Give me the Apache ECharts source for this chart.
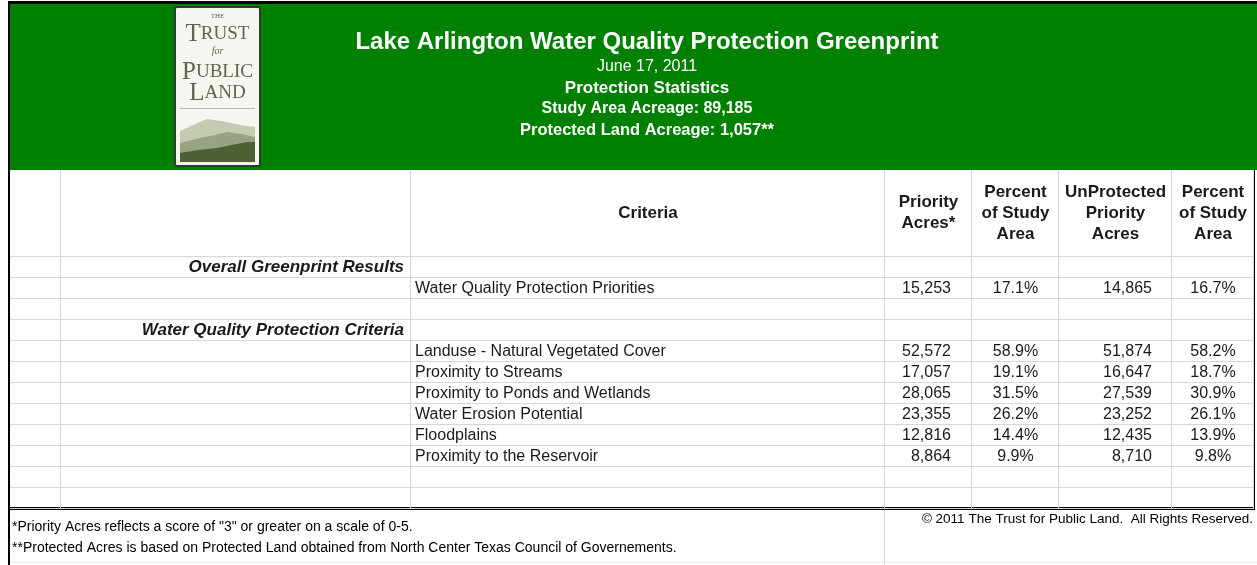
<!DOCTYPE html>
<html><head><meta charset="utf-8">
<script src="https://cdn.jsdelivr.net/npm/echarts@6/dist/echarts.min.js"></script>
<style>html,body{margin:0;padding:0;background:#fff}#c{width:1257px;height:565px}</style>
</head><body><div id="c"></div>
<script>
// ---------- data ----------
const titleText = 'Lake Arlington Water Quality Protection Greenprint';
const reportDate = 'June 17, 2011';
const subtitle = 'Protection Statistics';
const studyAreaAcreage = '89,185';
const protectedLandAcreage = '1,057';
const columnHeaders = ['', '', 'Criteria', 'Priority\nAcres*', 'Percent\nof Study\nArea', 'UnProtected\nPriority\nAcres', 'Percent\nof Study\nArea'];
const sectionHeaders = ['Overall Greenprint Results', 'Water Quality Protection Criteria'];
const criteria = ['Water Quality Protection Priorities', 'Landuse - Natural Vegetated Cover', 'Proximity to Streams', 'Proximity to Ponds and Wetlands', 'Water Erosion Potential', 'Floodplains', 'Proximity to the Reservoir'];
const priorityAcres = [15253, 52572, 17057, 28065, 23355, 12816, 8864];
const pctOfStudyArea = [17.1, 58.9, 19.1, 31.5, 26.2, 14.4, 9.9];
const unprotectedAcres = [14865, 51874, 16647, 27539, 23252, 12435, 8710];
const pctUnprotected = [16.7, 58.2, 18.7, 30.9, 26.1, 13.9, 9.8];
const footnotes = ['*Priority Acres reflects a score of "3" or greater on a scale of 0-5.', '**Protected Acres is based on Protected Land obtained from North Center Texas Council of Governements.'];
const copyright = '\u00A9 2011 The Trust for Public Land.  All Rights Reserved.';

// ---------- layout ----------
const rowPlan = ['s0', 'c0', '', 's1', 'c1', 'c2', 'c3', 'c4', 'c5', 'c6', '', ''];
const colEdges = [10, 60, 410, 884, 971, 1058, 1171, 1253];
const FONT = '"Liberation Sans", Arial, sans-serif';
const GRID = '#d0d7e5';
const TXT = '#1a1a1a';

function fmt(n) { return n.toLocaleString('en-US'); }

function bodyCell(c, r) {
  const k = rowPlan[r];
  if (!k) return null;
  const idx = +k.slice(1);
  if (k[0] === 's') {
    return c === 1 ? { text: sectionHeaders[idx], align: 'right', pad: 6, weight: 'bold', style: 'italic', size: 17 } : null;
  }
  switch (c) {
    case 2: return { text: criteria[idx], align: 'left', pad: 5 };
    case 3: return { text: fmt(priorityAcres[idx]), align: 'right', pad: 20 };
    case 4: return { text: pctOfStudyArea[idx].toFixed(1) + '%', align: 'center' };
    case 5: return { text: fmt(unprotectedAcres[idx]), align: 'right', pad: 19 };
    case 6: return { text: pctUnprotected[idx].toFixed(1) + '%', align: 'center' };
  }
  return null;
}

function makeRender(isHeader) {
  return function (params, api) {
    const c = api.value(0), r = api.value(1);
    const p0 = api.coord([colEdges[c], r]);
    const p1 = api.coord([colEdges[c + 1], r]);
    const h = api.size([0, 1])[1];
    const x0 = Math.round(p0[0]), x1 = Math.round(p1[0]);
    const yc = p0[1];
    const y0 = Math.round(yc - h / 2), y1 = Math.round(yc + h / 2);
    const children = [
      { type: 'rect', z2: 1, shape: { x: x1, y: y0, width: 1, height: y1 - y0 + 1 }, style: { fill: GRID } },
      { type: 'rect', z2: 1, shape: { x: x0, y: y1, width: x1 - x0 + 1, height: 1 }, style: { fill: GRID } }
    ];
    let cell = null;
    if (isHeader) {
      if (columnHeaders[c]) cell = { text: columnHeaders[c], align: 'center', weight: 'bold', size: 17 };
    } else {
      cell = bodyCell(c, r);
    }
    if (cell) {
      let tx;
      if (cell.align === 'left') tx = x0 + cell.pad;
      else if (cell.align === 'right') tx = x1 - cell.pad;
      else tx = (x0 + x1) / 2 + 1;
      children.push({
        type: 'text', z2: 2, x: tx, y: yc + (isHeader ? 0 : 1),
        style: {
          text: cell.text, align: cell.align, verticalAlign: 'middle',
          fontFamily: FONT, fontSize: cell.size || 16, fontWeight: cell.weight || 'normal',
          fontStyle: cell.style || 'normal', fill: TXT, lineHeight: 21
        }
      });
    }
    return { type: 'group', children };
  };
}

const headerData = [];
for (let c = 0; c < 7; c++) headerData.push([c, 0]);
const bodyData = [];
for (let r = 0; r < rowPlan.length; r++) for (let c = 0; c < 7; c++) bodyData.push([c, r]);

// ---------- logo ----------
const LOGO = '#5d6655';
const SERIF = '"Liberation Serif", "DejaVu Serif", serif';
const capRich = { b: { fontFamily: SERIF, fontSize: 25, fill: LOGO }, s: { fontFamily: SERIF, fontSize: 19, fill: LOGO } };
const logo = {
  type: 'group', children: [
    { type: 'rect', shape: { x: 175, y: 7, width: 85, height: 159, r: 2 }, style: { fill: '#f6f6f0', stroke: '#2c3f2a', lineWidth: 2 } },
    { type: 'text', x: 217.5, y: 16, style: { text: 'THE', align: 'center', verticalAlign: 'middle', fontFamily: SERIF, fontSize: 7, fill: LOGO } },
    { type: 'text', x: 217.5, y: 34, style: { text: '{b|T}{s|RUST}', align: 'center', verticalAlign: 'middle', rich: capRich } },
    { type: 'text', x: 217.5, y: 51, style: { text: 'for', align: 'center', verticalAlign: 'middle', fontFamily: SERIF, fontStyle: 'italic', fontSize: 10, fill: LOGO } },
    { type: 'text', x: 217.5, y: 72, style: { text: '{b|P}{s|UBLIC}', align: 'center', verticalAlign: 'middle', rich: capRich } },
    { type: 'text', x: 217.5, y: 93, style: { text: '{b|L}{s|AND}', align: 'center', verticalAlign: 'middle', rich: capRich } },
    { type: 'rect', shape: { x: 180, y: 108, width: 75, height: 1 }, style: { fill: '#b9bbb0' } },
    { type: 'polygon', shape: { points: [[180, 131], [195, 124], [207, 119], [222, 121], [240, 125], [255, 127], [255, 162], [180, 162]] }, style: { fill: '#c7cab2' } },
    { type: 'polygon', shape: { points: [[180, 143], [200, 138], [215, 135], [227, 132], [242, 134], [255, 137], [255, 162], [180, 162]] }, style: { fill: '#98a384' } },
    { type: 'polygon', shape: { points: [[180, 153], [198, 150], [217, 148], [232, 145], [247, 142], [255, 142], [255, 162], [180, 162]] }, style: { fill: '#4c6034' } }
  ]
};

function htext(y, text, size, weight) {
  return { type: 'text', x: 647, y, style: { text, align: 'center', verticalAlign: 'middle', fontFamily: FONT, fontSize: size, fontWeight: weight, fill: '#fff' } };
}

const chart = echarts.init(document.getElementById('c'), null, { renderer: 'canvas' });
chart.setOption({
  animation: false,
  backgroundColor: '#fff',
  grid: [
    { left: 0, right: 0, top: 170, height: 86 },
    { left: 0, right: 0, top: 256, height: 252 }
  ],
  xAxis: [
    { type: 'value', gridIndex: 0, min: 0, max: 1257, show: false },
    { type: 'value', gridIndex: 1, min: 0, max: 1257, show: false }
  ],
  yAxis: [
    { type: 'category', gridIndex: 0, data: ['header'], inverse: true, show: false },
    { type: 'category', gridIndex: 1, data: rowPlan.map((_, i) => String(i)), inverse: true, show: false }
  ],
  series: [
    { type: 'custom', xAxisIndex: 0, yAxisIndex: 0, data: headerData, renderItem: makeRender(true), silent: true },
    { type: 'custom', xAxisIndex: 1, yAxisIndex: 1, data: bodyData, renderItem: makeRender(false), silent: true }
  ],
  graphic: [
    { type: 'rect', shape: { x: 10, y: 2, width: 1247, height: 168 }, style: { fill: '#008000' } },
    { type: 'rect', shape: { x: 8, y: 1, width: 1249, height: 3 }, style: { fill: '#000' } },
    logo,
    htext(42, titleText, 24, 'bold'),
    htext(67, reportDate, 16, 'normal'),
    htext(88, subtitle, 17, 'bold'),
    htext(109, 'Study Area Acreage: ' + studyAreaAcreage, 16, 'bold'),
    htext(130, 'Protected Land Acreage: ' + protectedLandAcreage + '**', 16.5, 'bold'),
    { type: 'rect', shape: { x: 8, y: 1, width: 2, height: 564 }, style: { fill: '#000' } },
    { type: 'rect', shape: { x: 1253, y: 170, width: 2, height: 340 }, style: { fill: '#000' } },
    { type: 'rect', shape: { x: 8, y: 507, width: 1247, height: 3 }, style: { fill: '#000' } },
    { type: 'rect', shape: { x: 884, y: 510, width: 1, height: 55 }, style: { fill: GRID } },
    { type: 'rect', shape: { x: 10, y: 562, width: 1247, height: 1 }, style: { fill: '#e6eaf2' } },
    { type: 'text', x: 12, y: 527, style: { text: footnotes[0], align: 'left', verticalAlign: 'middle', fontFamily: FONT, fontSize: 14, fill: '#000' } },
    { type: 'text', x: 12, y: 548, style: { text: footnotes[1], align: 'left', verticalAlign: 'middle', fontFamily: FONT, fontSize: 14, fill: '#000' } },
    { type: 'text', x: 1253, y: 519, style: { text: copyright, align: 'right', verticalAlign: 'middle', fontFamily: FONT, fontSize: 13.5, fill: '#000' } }
  ]
});
</script>
</body></html>
